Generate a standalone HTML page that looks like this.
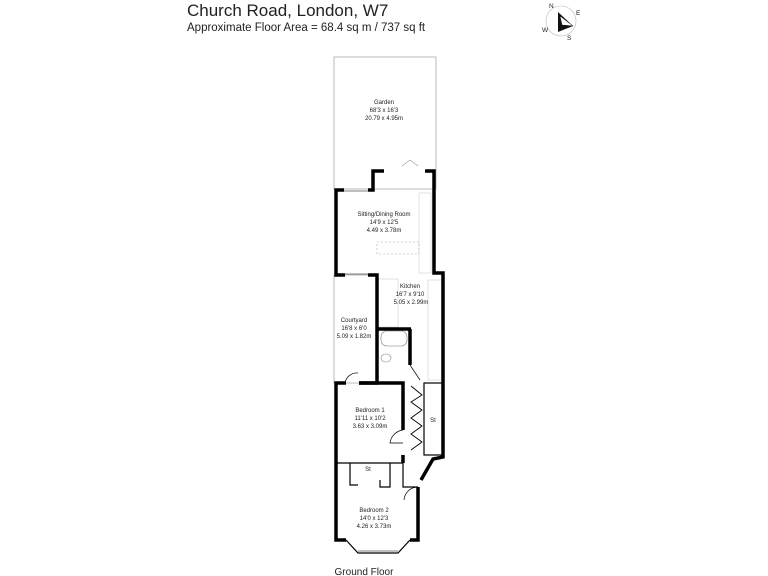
<!DOCTYPE html>
<html><head><meta charset="utf-8"><style>
html,body{margin:0;padding:0;background:#fff;width:768px;height:576px;overflow:hidden}
svg{display:block}
text{font-family:"Liberation Sans",sans-serif;fill:#222}
.s{font-size:6px;text-anchor:middle}
</style></head><body>
<svg width="768" height="576" viewBox="0 0 768 576">
<text x="187" y="16" font-size="17" fill="#111">Church Road, London, W7</text>
<text x="187" y="31" font-size="11.5" fill="#111">Approximate Floor Area = 68.4 sq m / 737 sq ft</text>
<!-- compass -->
<circle cx="561" cy="21" r="15" fill="none" stroke="#bbb" stroke-width="0.6"/>
<polygon points="558,12 573,26 558,32" fill="#111"/>
<polygon points="560,16 573,26 562,25" fill="#fff" stroke="#111" stroke-width="0.5"/>
<text x="549" y="8" font-size="6.5">N</text>
<text x="576" y="15" font-size="6.5">E</text>
<text x="542" y="32" font-size="6.5">W</text>
<text x="567" y="40" font-size="6.5">S</text>
<!-- garden -->
<rect x="334" y="57" width="102" height="132" fill="none" stroke="#aaa" stroke-width="0.8"/>
<polyline points="402,166 410,160 418,166" fill="none" stroke="#999" stroke-width="0.6"/>
<!-- courtyard thin -->
<rect x="334" y="275" width="43" height="108" fill="none" stroke="#aaa" stroke-width="0.8"/>
<!-- kitchen fittings light -->
<rect x="419" y="193" width="12" height="80" fill="none" stroke="#ccc" stroke-width="0.6"/>
<rect x="428" y="280" width="14" height="100" fill="none" stroke="#ccc" stroke-width="0.6"/>
<rect x="378" y="279" width="20" height="48" fill="none" stroke="#ccc" stroke-width="0.6"/>
<rect x="377" y="242" width="42" height="12" fill="none" stroke="#aaa" stroke-width="0.6" stroke-dasharray="2,2"/>
<rect x="381" y="331" width="26" height="15" rx="6" fill="none" stroke="#777" stroke-width="0.6"/>
<ellipse cx="386" cy="358" rx="5" ry="4" fill="none" stroke="#888" stroke-width="0.6"/>
<!-- walls -->
<g fill="none" stroke="#000" stroke-width="3.5" stroke-linejoin="miter">
<polyline points="344,190 336,190 336,275 345,275"/>
<polyline points="368,190 373,190 373,171 384,171"/>
<polyline points="425,171 434,171 434,273 443,273 443,457 433,459 421,480"/>
<polyline points="368,275 377,275 377,383 359,383"/>
<line x1="377" y1="329" x2="411" y2="329"/>
<line x1="410" y1="329" x2="410" y2="365"/>
<polyline points="346,383 336,383 336,540 346,540"/>
<polyline points="359,383 403,383 403,430"/>
<line x1="403" y1="455" x2="403" y2="463"/>
<polyline points="418,487 418,540 410,540"/>
</g>
<g fill="none" stroke="#000" stroke-width="1.2">
<line x1="336" y1="463" x2="403" y2="463"/>
<polyline points="350,463 350,485 358,485"/>
<polyline points="380,480 380,487 390,487 390,463"/>
<polyline points="403,463 403,487 418,487"/>
<rect x="424" y="383" width="19" height="72"/>
<polyline points="346,540 358,553 398,553 410,540"/>
<polyline points="411,386 422,395 411,402 422,410 411,418 422,426 411,434 422,442 411,450" stroke-width="0.9"/>
<path d="M403,430 A15,15 0 0 0 390,443 L403,443" stroke-width="0.7"/>
<path d="M345,383 A12,12 0 0 1 358,373" stroke-width="0.7"/>
<path d="M418,487 A14,14 0 0 0 404,500" stroke-width="0.7"/>
<line x1="410" y1="365" x2="420" y2="380" stroke-width="0.7"/>
</g>
<g stroke="#000" stroke-width="0.6" fill="none">
<line x1="344" y1="191" x2="368" y2="191"/>
<line x1="345" y1="274" x2="368" y2="274"/>
<line x1="358" y1="551" x2="398" y2="551"/>
</g>
<!-- labels -->
<text class="s" x="384" y="104">Garden</text>
<text class="s" x="384" y="112">68'3 x 16'3</text>
<text class="s" x="384" y="120">20.79 x 4.95m</text>
<text class="s" x="384" y="216">Sitting/Dining Room</text>
<text class="s" x="384" y="224">14'9 x 12'5</text>
<text class="s" x="384" y="232">4.49 x 3.78m</text>
<text class="s" x="410" y="288">Kitchen</text>
<text class="s" x="410" y="296">16'7 x 9'10</text>
<text class="s" x="411" y="304">5.05 x 2.99m</text>
<text class="s" x="354" y="322">Courtyard</text>
<text class="s" x="354" y="330">16'8 x 6'0</text>
<text class="s" x="354" y="338">5.09 x 1.82m</text>
<text class="s" x="370" y="412">Bedroom 1</text>
<text class="s" x="370" y="420">11'11 x 10'2</text>
<text class="s" x="370" y="428">3.63 x 3.09m</text>
<text class="s" x="433" y="422">St</text>
<text class="s" x="368" y="471">St</text>
<text class="s" x="374" y="512">Bedroom 2</text>
<text class="s" x="374" y="520">14'0 x 12'3</text>
<text class="s" x="374" y="528">4.26 x 3.73m</text>
<text x="364" y="575" font-size="10" text-anchor="middle" fill="#333">Ground Floor</text>
</svg>
</body></html>
